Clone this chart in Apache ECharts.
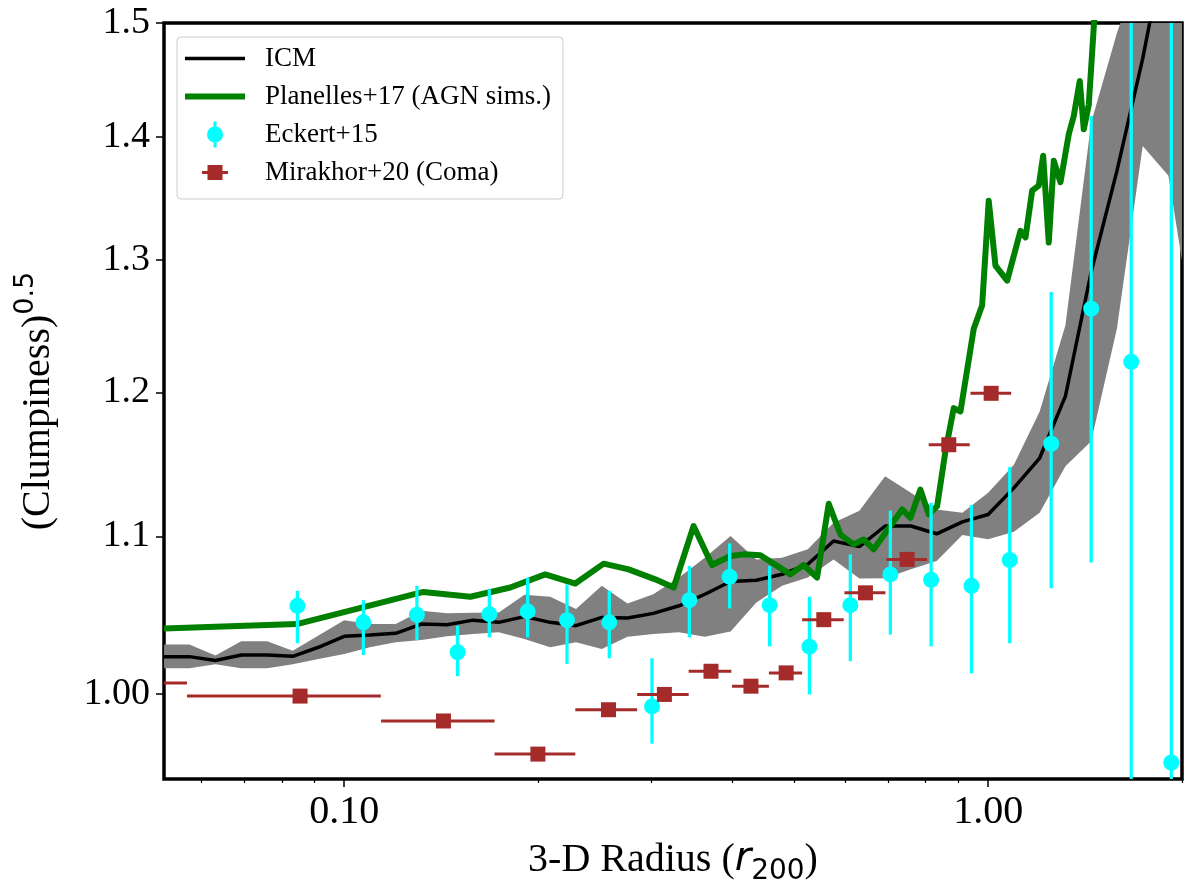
<!DOCTYPE html>
<html><head><meta charset="utf-8">
<script src="https://cdn.jsdelivr.net/npm/echarts@6/dist/echarts.min.js"></script>
<style>html,body{margin:0;padding:0;background:#fff}#chart{width:1200px;height:891px}</style>
</head><body><div id="chart"></div>
<script>
// ---- data ----
const bandRadius = [0.0525,0.0575,0.0631,0.0692,0.0759,0.0832,0.0912,0.100,0.1096,0.1202,0.1318,0.1445,0.1585,0.1738,0.1905,0.2089,0.2291,0.2512,0.2754,0.3020,0.3311,0.3631,0.3981,0.4365,0.4786,0.5248,0.5754,0.6310,0.6918,0.7586,0.8318,0.9120,1.000,1.0965,1.2023,1.3183,1.4454,1.5849,1.7378,1.9055,2.0893];
const icmValues = [1.0229,1.0229,1.0205,1.0239,1.0239,1.0231,1.0287,1.0355,1.0363,1.0374,1.0432,1.0428,1.0457,1.0443,1.0479,1.0443,1.0422,1.0474,1.0470,1.0500,1.0548,1.0622,1.0704,1.0712,1.0751,1.0816,1.0969,1.0932,1.1069,1.1069,1.1017,1.1097,1.1146,1.1327,1.1533,1.1972,1.2905,1.3718,1.4681,1.5895];
const bandUpper = [1.0304,1.0304,1.0236,1.0324,1.0324,1.0266,1.0360,1.0457,1.0432,1.0432,1.0517,1.0500,1.0504,1.0506,1.0618,1.0606,1.0527,1.0676,1.0563,1.0622,1.0730,1.0859,1.1002,1.0848,1.0859,1.0914,1.1091,1.1171,1.1407,1.1293,1.1180,1.1158,1.1293,1.1487,1.1862,1.2497,1.4124,1.4910,1.56,1.65,1.70];
const bandLower = [1.0158,1.0158,1.0182,1.0158,1.0158,1.0182,1.0215,1.0246,1.0287,1.0318,1.0332,1.0355,1.0370,1.0380,1.0338,1.0287,1.0318,1.0276,1.0353,1.0370,1.0380,1.0353,1.0386,1.0569,1.0676,1.0730,1.0848,1.0723,1.0725,1.0783,1.0838,1.1009,1.0980,1.1031,1.1158,1.1476,1.1650,1.2472,1.3926,1.3677,1.2404];

const planellesRadius = [0.0525,0.0844,0.0996,0.1327,0.1570,0.1811,0.2052,0.2285,0.2529,0.2765,0.3041,0.3248,0.3488,0.3725,0.3978,0.4173,0.4429,0.4930,0.5170,0.5424,0.5655,0.5896,0.6181,0.6406,0.6642,0.7353,0.7575,0.7849,0.8085,0.8333,0.8584,0.8843,0.9057,0.9498,0.9788,1.0021,1.0265,1.0703,1.1226,1.1429,1.1704,1.1984,1.2174,1.2420,1.2645,1.2951,1.3341,1.3582,1.3876,1.4076,1.4332,1.4591,1.4700];
const planellesValues = [1.0405,1.0432,1.0506,1.0637,1.0606,1.0665,1.0750,1.0691,1.0820,1.0783,1.0718,1.0665,1.1069,1.0811,1.0870,1.0881,1.0875,1.0750,1.0811,1.0729,1.1219,1.1012,1.0947,1.0979,1.0914,1.1180,1.1124,1.1315,1.1147,1.1203,1.1581,1.1886,1.1862,1.2470,1.2648,1.3473,1.2955,1.2838,1.3230,1.3177,1.3555,1.3596,1.3844,1.3137,1.3802,1.3624,1.4025,1.4181,1.4483,1.4067,1.4281,1.4969,1.5300];

const eckertRadius = [0.0846,0.1071,0.1297,0.1500,0.1680,0.1927,0.2218,0.2580,0.3006,0.3436,0.3968,0.4578,0.5278,0.6109,0.7049,0.8155,0.9420,1.0803,1.2527,1.4454,1.6679,1.9250];
const eckertValues = [1.0548,1.0443,1.0491,1.0256,1.0495,1.0512,1.0457,1.0443,0.9926,1.0584,1.0734,1.0552,1.0291,1.0552,1.0750,1.0715,1.0676,1.0844,1.1633,1.2622,1.2223,0.9595];
const eckertLow = [1.0312,1.0239,1.0332,1.0109,1.0349,1.0349,1.0184,1.0219,0.9705,1.0349,1.0531,1.0293,0.9998,1.0201,1.0366,1.0293,1.0127,1.0312,1.0661,1.0827,0.90,0.90];
const eckertHigh = [1.0644,1.0584,1.0676,1.0422,1.0654,1.0729,1.0686,1.0644,1.0219,1.0805,1.0953,1.0805,1.0606,1.0881,1.1173,1.1226,1.1210,1.1470,1.2749,1.4181,1.60,1.60];

const mirakhorRadius = [0.0485,0.0854,0.1426,0.1999,0.2573,0.3142,0.3712,0.4282,0.4856,0.5556,0.6448,0.7484,0.8687,1.0108];
const mirakhorValues = [1.0068,0.9988,0.9839,0.9644,0.9906,0.9998,1.0139,1.0048,1.0129,1.0460,1.0631,1.0848,1.1626,1.1993];
const mirakhorRadiusLow = [0.0410,0.0570,0.1141,0.1712,0.2285,0.2851,0.3427,0.4002,0.4566,0.5142,0.5981,0.6950,0.8085,0.9387];
const mirakhorRadiusHigh = [0.0570,0.1140,0.1712,0.2285,0.2850,0.3427,0.3992,0.4566,0.5142,0.5966,0.6926,0.8039,0.9363,1.0857];

const xMajorTicks = [0.1, 1.0];
const xMinorTicks = [0.06,0.07,0.08,0.09,0.2,0.3,0.4,0.5,0.6,0.7,0.8,0.9,2.0];
const yTicks = [1.0,1.1,1.2,1.3,1.4,1.5];

// ---- chart ----
const FONT = 'Liberation Serif';
const chart = echarts.init(document.getElementById('chart'), null, {renderer:'canvas'});

const bandData = bandRadius.map((r,i)=>[r, bandLower[i], bandUpper[i]]);
const icmData = icmValues.map((v,i)=>[bandRadius[i], v]);
const planData = planellesRadius.map((r,i)=>[r, planellesValues[i]]);
const eckData = eckertRadius.map((r,i)=>[r, eckertValues[i], eckertLow[i], eckertHigh[i]]);
const mirData = mirakhorRadius.map((r,i)=>[r, mirakhorValues[i], mirakhorRadiusLow[i], mirakhorRadiusHigh[i]]);

const anchors = 'M-37.5,-13 L-37.5,-13 Z M37.5,13 L37.5,13 Z ';
const iconICM = 'path://' + anchors + 'M-37.5,-1.75 L22.5,-1.75 L22.5,1.75 L-37.5,1.75 Z';
const iconPlan = 'path://' + anchors + 'M-37.5,-3 L22.5,-3 L22.5,3 L-37.5,3 Z';
const iconEck = 'path://' + anchors + 'M-9,-13 L-6,-13 L-6,13 L-9,13 Z M-15.5,0 A8,8 0 1,1 0.5,0 A8,8 0 1,1 -15.5,0 Z';
const iconMir = 'path://' + anchors + 'M-20.5,-1.5 L5.5,-1.5 L5.5,1.5 L-20.5,1.5 Z M-15,-7.5 L0,-7.5 L0,7.5 L-15,7.5 Z';

const option = {
  animation: false,
  backgroundColor: '#ffffff',
  grid: {left:164, top:23, width:1018, height:758, show:true, borderColor:'#000', borderWidth:3.5, backgroundColor:'transparent'},
  legend: {
    orient:'vertical', left:177, top:37, selectedMode:false,
    padding:[8,12,13,8], itemGap:11, itemWidth:75, itemHeight:26,
    backgroundColor:'rgba(255,255,255,0.8)', borderColor:'#cccccc', borderWidth:1, borderRadius:4,
    textStyle:{fontFamily:FONT, fontSize:27, color:'#000'},
    data:[
      {name:'ICM', icon:iconICM, itemStyle:{color:'#000000', borderWidth:0}},
      {name:'Planelles+17 (AGN sims.)', icon:iconPlan, itemStyle:{color:'#008000', borderWidth:0}},
      {name:'Eckert+15', icon:iconEck, itemStyle:{color:'#00ffff', borderWidth:0}},
      {name:'Mirakhor+20 (Coma)', icon:iconMir, itemStyle:{color:'#a52a2a', borderWidth:0}}
    ]
  },
  xAxis: [
    {
      type:'log', logBase:10, min:0.0525, max:2.0, position:'bottom',
      axisLine:{show:false},
      splitLine:{show:false}, minorTick:{show:false},
      axisTick:{show:true, inside:false, length:8, customValues:xMajorTicks, lineStyle:{color:'#000', width:1.5}},
      axisLabel:{customValues:xMajorTicks, margin:13, fontFamily:FONT, fontSize:40, color:'#000',
        formatter:(v)=>Number(v).toFixed(2)},
      name:'{a|3-D Radius (}{i|r}{s|200}{a|)}', nameLocation:'middle', nameGap:55,
      nameTextStyle:{rich:{
        a:{fontFamily:FONT, fontSize:40, lineHeight:52, color:'#000'},
        i:{fontFamily:'DejaVu Sans', fontStyle:'italic', fontSize:40, lineHeight:52, color:'#000'},
        s:{fontFamily:'DejaVu Sans', fontSize:28, lineHeight:28, verticalAlign:'bottom', color:'#000'}
      }}
    },
    {
      type:'log', logBase:10, min:0.0525, max:2.0, position:'bottom',
      axisLine:{show:false}, splitLine:{show:false},
      axisTick:{show:true, inside:false, length:4, customValues:xMinorTicks, lineStyle:{color:'#000', width:1.2}},
      axisLabel:{show:false}
    }
  ],
  yAxis: {
    type:'log', logBase:10, min:0.95, max:1.5,
    axisLine:{show:false}, splitLine:{show:false}, minorTick:{show:false},
    axisTick:{show:true, inside:false, length:8, customValues:yTicks, lineStyle:{color:'#000', width:1.5}},
    axisLabel:{customValues:yTicks, margin:14, fontFamily:FONT, fontSize:38, color:'#000',
      formatter:(v)=> Math.abs(v-1)<1e-9 ? '1.00' : Number(v).toFixed(1)},
    name:'{a|(Clumpiness)}{b|0.5}', nameLocation:'middle', nameGap:100, nameRotate:90,
    nameTextStyle:{rich:{
      a:{fontFamily:FONT, fontSize:40, lineHeight:52, color:'#000'},
      b:{fontFamily:'DejaVu Sans', fontSize:27, lineHeight:27, verticalAlign:'top', color:'#000'}
    }}
  },
  series: [
    {
      name:'band', type:'custom', clip:true, silent:true, z:1,
      data: bandData,
      encode:{x:0, y:[1,2]},
      renderItem:(params, api)=>{
        if (params.dataIndex !== 0) return null;
        const pts = [];
        for (let i=0;i<bandRadius.length;i++) pts.push(api.coord([bandRadius[i], bandUpper[i]]));
        for (let i=bandRadius.length-1;i>=0;i--) pts.push(api.coord([bandRadius[i], bandLower[i]]));
        return {type:'polygon', shape:{points:pts}, style:{fill:'#808080', stroke:null}};
      }
    },
    {
      name:'ICM', type:'line', data:icmData, symbol:'none', color:'#000000', z:2,
      lineStyle:{color:'#000000', width:3.5}, clip:true
    },
    {
      name:'Planelles+17 (AGN sims.)', type:'line', data:planData, symbol:'none', color:'#008000', z:3,
      lineStyle:{color:'#008000', width:6, join:'round'}, clip:true
    },
    {
      name:'Eckert+15', type:'custom', clip:true, color:'#00ffff', z:4,
      data: eckData, encode:{x:0, y:[1,2,3]},
      renderItem:(params, api)=>{
        const x = api.value(0), y = api.value(1), lo = api.value(2), hi = api.value(3);
        const p = api.coord([x,y]), pl = api.coord([x,lo]), ph = api.coord([x,hi]);
        return {type:'group', children:[
          {type:'line', shape:{x1:pl[0], y1:pl[1], x2:ph[0], y2:ph[1]}, style:{stroke:'#00ffff', lineWidth:3.3}},
          {type:'circle', shape:{cx:p[0], cy:p[1], r:8}, style:{fill:'#00ffff'}}
        ]};
      }
    },
    {
      name:'Mirakhor+20 (Coma)', type:'custom', clip:true, color:'#a52a2a', z:5,
      data: mirData, encode:{x:[0,2,3], y:1},
      renderItem:(params, api)=>{
        const x = api.value(0), y = api.value(1), xl = api.value(2), xh = api.value(3);
        const p = api.coord([x,y]), pl = api.coord([xl,y]), ph = api.coord([xh,y]);
        return {type:'group', children:[
          {type:'line', shape:{x1:pl[0], y1:pl[1], x2:ph[0], y2:ph[1]}, style:{stroke:'#a52a2a', lineWidth:3}},
          {type:'rect', shape:{x:p[0]-7.5, y:p[1]-7.5, width:15, height:15}, style:{fill:'#a52a2a'}}
        ]};
      }
    }
  ]
};
chart.setOption(option);
</script>
</body></html>
